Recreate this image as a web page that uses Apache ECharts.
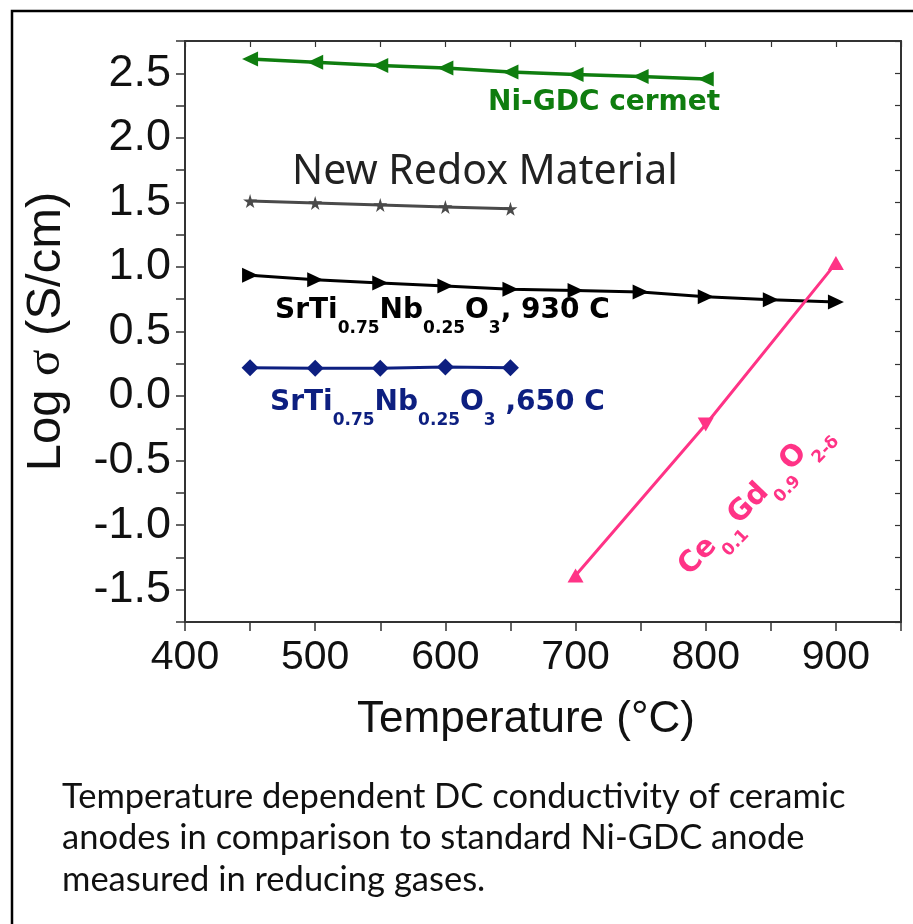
<!DOCTYPE html>
<html>
<head>
<meta charset="utf-8">
<script src="https://cdn.jsdelivr.net/npm/echarts@6/dist/echarts.min.js"></script>
<style>
html,body{margin:0;padding:0;background:#fff;}
#c{width:913px;height:924px;}
</style>
</head>
<body>
<div id="c"></div>
<script>
// ---- data ----
var tempNiGDC = [450, 500, 550, 600, 650, 700, 750, 800];
var logNiGDC = [2.61, 2.585, 2.56, 2.54, 2.51, 2.49, 2.475, 2.455];

var tempRedox = [450, 500, 550, 600, 650];
var logRedox = [1.51, 1.495, 1.48, 1.465, 1.45];

var tempSTN930 = [450, 500, 550, 600, 650, 700, 750, 800, 850, 900];
var logSTN930 = [0.935, 0.90, 0.875, 0.852, 0.828, 0.817, 0.805, 0.77, 0.745, 0.728];

var tempSTN650 = [450, 500, 550, 600, 650];
var logSTN650 = [0.22, 0.215, 0.215, 0.225, 0.22];

var tempCGO = [700, 800, 900];
var logCGO = [-1.39, -0.22, 1.03];
var cgoMarkerRotate = [0, 180, 0];

var xTicks = [400, 500, 600, 700, 800, 900];
var yTicks = [-1.5, -1.0, -0.5, 0.0, 0.5, 1.0, 1.5, 2.0, 2.5];

function pairs(xs, ys) { return xs.map(function (x, i) { return [x, ys[i]]; }); }

var chart = echarts.init(document.getElementById('c'), null, {renderer: 'canvas'});

var axisCol = '#333';
var baseFont = '"Liberation Sans", Arial, sans-serif';

var option = {
  backgroundColor: '#fff',
  animation: false,
  grid: {left: 185, right: 12, top: 41, bottom: 302, containLabel: false},
  xAxis: [{
    type: 'value', min: 400, max: 950, interval: 50,
    axisLine: {show: true, onZero: false, lineStyle: {color: axisCol, width: 2}},
    axisTick: {show: true, inside: false, length: 9, lineStyle: {color: axisCol, width: 1.5}},
    splitLine: {show: false},
    axisLabel: {
      margin: 15, fontSize: 41, color: '#111', fontFamily: baseFont,
      formatter: function (v) { return xTicks.indexOf(v) >= 0 ? String(v) : ''; }
    },
    name: 'Temperature (\u00B0C)', nameLocation: 'middle', nameGap: 76,
    nameTextStyle: {fontSize: 44, color: '#111', fontFamily: baseFont, padding: [0, 34, 0, 0]}
  }, {
    type: 'value', min: 400, max: 950, interval: 50, position: 'top',
    axisLine: {show: true, onZero: false, lineStyle: {color: axisCol, width: 2}},
    axisTick: {show: true, inside: true, length: 6, lineStyle: {color: axisCol, width: 1.2}},
    axisLabel: {show: false}, splitLine: {show: false}
  }],
  yAxis: [{
    type: 'value', min: -1.75, max: 2.75, interval: 0.25,
    axisLine: {show: true, onZero: false, lineStyle: {color: axisCol, width: 2}},
    axisTick: {show: true, inside: false, length: 9, lineStyle: {color: axisCol, width: 1.5}},
    splitLine: {show: false},
    axisLabel: {
      margin: 14, fontSize: 45, color: '#111', fontFamily: baseFont,
      formatter: function (v) {
        for (var i = 0; i < yTicks.length; i++) {
          if (Math.abs(yTicks[i] - v) < 1e-6) return yTicks[i].toFixed(1);
        }
        return '';
      }
    },
    name: 'Log {s|\u03C3} (S/cm)', nameLocation: 'middle', nameGap: 114,
    nameTextStyle: {
      fontSize: 49, color: '#111', fontFamily: baseFont,
      rich: {s: {fontSize: 49, fontFamily: '"Liberation Serif", serif', color: '#111'}}
    }
  }, {
    type: 'value', min: -1.75, max: 2.75, interval: 0.25, position: 'right',
    axisLine: {show: true, onZero: false, lineStyle: {color: axisCol, width: 2}},
    axisTick: {show: true, inside: true, length: 6, lineStyle: {color: axisCol, width: 1.2}},
    axisLabel: {show: false}, splitLine: {show: false}
  }],
  series: [{
    name: 'Ni-GDC cermet', type: 'line', data: pairs(tempNiGDC, logNiGDC),
    symbol: 'triangle', symbolSize: [15, 16], symbolRotate: 90,
    lineStyle: {color: '#0f7d0f', width: 3.5}, itemStyle: {color: '#0f7d0f'}
  }, {
    name: 'New Redox Material', type: 'line', data: pairs(tempRedox, logRedox),
    symbol: 'path://M50,0 L61,35 L98,35 L68,57 L79,92 L50,71 L21,92 L32,57 L2,35 L39,35 Z', symbolSize: 14,
    lineStyle: {color: '#4a4a4a', width: 3}, itemStyle: {color: '#4a4a4a'}
  }, {
    name: 'SrTi0.75Nb0.25O3 930 C', type: 'line', data: pairs(tempSTN930, logSTN930),
    symbol: 'triangle', symbolSize: [15, 16], symbolRotate: -90,
    lineStyle: {color: '#000', width: 3}, itemStyle: {color: '#000'}
  }, {
    name: 'SrTi0.75Nb0.25O3 650 C', type: 'line', data: pairs(tempSTN650, logSTN650),
    symbol: 'diamond', symbolSize: [17, 17],
    lineStyle: {color: '#0d1f80', width: 3}, itemStyle: {color: '#0d1f80'}
  }, {
    name: 'Ce0.1Gd0.9O2-d', type: 'line',
    data: tempCGO.map(function (x, i) { return {value: [x, logCGO[i]], symbolRotate: cgoMarkerRotate[i]}; }),
    symbol: 'triangle', symbolSize: [16, 14],
    lineStyle: {color: '#ff3386', width: 3}, itemStyle: {color: '#ff3386'}
  }],
  graphic: []
};

chart.setOption(option);

var annoBold = '"DejaVu Sans", sans-serif';
var subRich = function (col, big, small, drop) {
  return {
    m: {fontSize: big, fontWeight: 'bold', fontFamily: annoBold, fill: col, verticalAlign: 'bottom', lineHeight: big + 2},
    s: {fontSize: small, fontWeight: 'bold', fontFamily: annoBold, fill: col, verticalAlign: 'bottom', lineHeight: big + 2, padding: [0, 0, -drop, 0]}
  };
};

chart.setOption({
  graphic: [
    {type: 'rect', shape: {x: 12, y: 11, width: 960, height: 980}, style: {fill: 'none', stroke: '#000', lineWidth: 2.5}, silent: true, z: 100},
    {type: 'text', x: 488, y: 103, style: {text: 'Ni-GDC cermet', font: 'bold 28px "DejaVu Sans"', fill: '#0f7d0f', verticalAlign: 'middle'}},
    {type: 'text', x: 292, y: 172, style: {text: 'New Redox Material', font: '41px "Noto Sans"', fill: '#222', verticalAlign: 'middle'}},
    {type: 'text', x: 275, y: 325, style: {
      text: '{m|SrTi}{s|0.75}{m|Nb}{s|0.25}{m|O}{s|3}{m|, 930 C}',
      verticalAlign: 'bottom', rich: subRich('#000', 28, 17, 12)}},
    {type: 'text', x: 270, y: 417, style: {
      text: '{m|SrTi}{s|0.75}{m|Nb}{s|0.25}{m|O}{s|3}{m| ,650 C}',
      verticalAlign: 'bottom', rich: subRich('#0d1f80', 28, 17, 12)}},
    {type: 'text', x: 753, y: 498, rotation: 46 * Math.PI / 180, style: {
      text: '{m|Ce}{s|0.1}{m|Gd}{s|0.9}{m|O}{s|2-\u03B4}',
      align: 'center', verticalAlign: 'middle', rich: subRich('#ff3386', 29, 17, 12)}},
    {type: 'text', x: 62, y: 776, style: {
      text: 'Temperature dependent DC conductivity of ceramic\nanodes in comparison to standard Ni-GDC anode\nmeasured in reducing gases.',
      font: '34.5px Lato', lineHeight: 41.5, fill: '#111', verticalAlign: 'top'}}
  ]
});
</script>
</body>
</html>
